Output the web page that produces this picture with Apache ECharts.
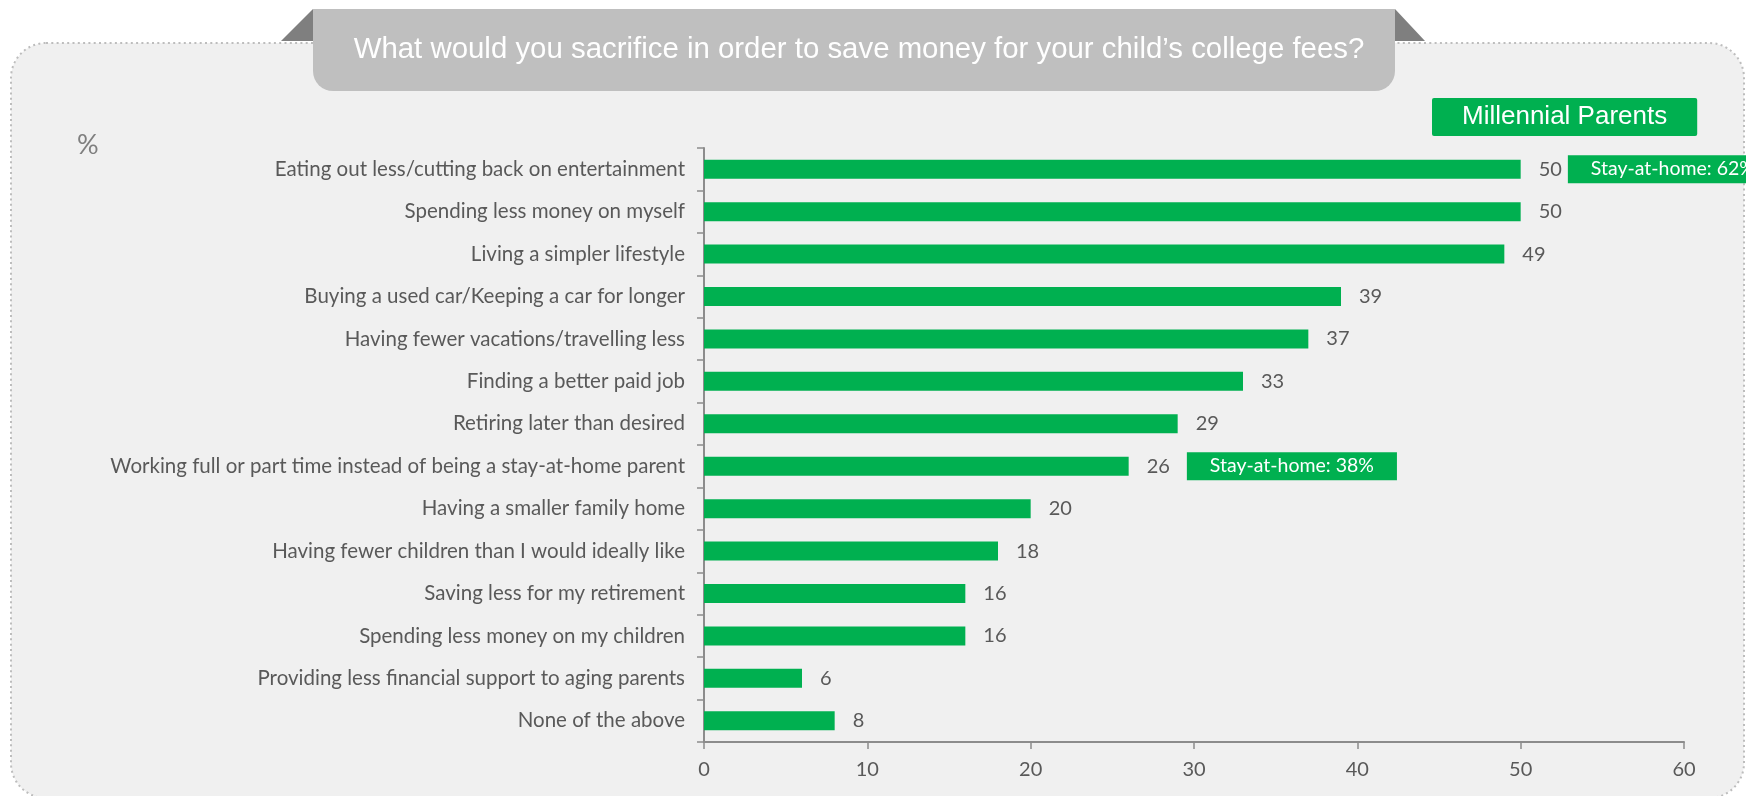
<!DOCTYPE html>
<html>
<head>
<meta charset="utf-8">
<script src="https://cdn.jsdelivr.net/npm/echarts@6/dist/echarts.min.js"></script>
<style>
  html, body { margin: 0; padding: 0; background: #ffffff; }
  #chart { width: 1746px; height: 796px; }
</style>
</head>
<body>
<div id="chart"></div>
<script>
// Survey answers, top to bottom
const categories = [
  'Eating out less/cutting back on entertainment',
  'Spending less money on myself',
  'Living a simpler lifestyle',
  'Buying a used car/Keeping a car for longer',
  'Having fewer vacations/travelling less',
  'Finding a better paid job',
  'Retiring later than desired',
  'Working full or part time instead of being a stay-at-home parent',
  'Having a smaller family home',
  'Having fewer children than I would ideally like',
  'Saving less for my retirement',
  'Spending less money on my children',
  'Providing less financial support to aging parents',
  'None of the above'
];
// Share of millennial parents (%)
const values = [50, 50, 49, 39, 37, 33, 29, 26, 20, 18, 16, 16, 6, 8];
// Call-outs for stay-at-home parents
const notes = ['Stay-at-home: 62%', '', '', '', '', '', '', 'Stay-at-home: 38%', '', '', '', '', '', ''];
const xTicks = [0, 10, 20, 30, 40, 50, 60];
const seriesName = 'Millennial Parents';
const titleText = 'What would you sacrifice in order to save money for your child\u2019s college fees?';
const unitText = '%';

const GREEN = '#00b050';
const LABEL_GREY = '#595959';
const AXIS_GREY = '#8c8c8c';
const LABEL_FONT = 'Lato, "Open Sans", sans-serif';
const HEAD_FONT = '"Liberation Sans", Arial, sans-serif';
// space between a value and its call-out box
const noteGap = { 0: 6, 7: 17 };

const chart = echarts.init(document.getElementById('chart'), null, { renderer: 'canvas' });

const barData = values.map((v, i) => {
  const item = { value: v };
  if (notes[i]) {
    item.label = {
      formatter: () => '{v|' + v + '}{g' + i + '|}{box|' + notes[i] + '}'
    };
  }
  return item;
});

const gapRich = {};
Object.keys(noteGap).forEach(k => { gapRich['g' + k] = { width: noteGap[k], height: 1 }; });

const option = {
  backgroundColor: '#ffffff',
  animation: false,
  title: {
    text: titleText,
    left: 854,
    top: 30,
    textAlign: 'center',
    textStyle: { color: '#ffffff', fontSize: 29.4, fontWeight: 'normal', fontFamily: HEAD_FONT }
  },
  legend: {
    data: [{ name: seriesName, icon: 'none' }],
    left: 1432,
    top: 98,
    itemWidth: 0,
    itemHeight: 0,
    padding: [6, 30, 6, 25],
    backgroundColor: GREEN,
    borderRadius: 2,
    selectedMode: false,
    textStyle: { color: '#ffffff', fontSize: 26, fontFamily: HEAD_FONT, lineHeight: 26 }
  },
  graphic: [
    // panel behind the chart
    {
      type: 'rect', z: -10,
      shape: { x: 11, y: 43, width: 1733, height: 755, r: 35 },
      style: { fill: '#f0f0f0', stroke: '#bdbdbd', lineWidth: 2, lineDash: [2, 3.3] }
    },
    // tab corners
    { type: 'polygon', z: -9, shape: { points: [[281, 41], [313, 9], [313, 41]] }, style: { fill: '#7f7f7f' } },
    { type: 'polygon', z: -9, shape: { points: [[1395, 9], [1425, 41], [1395, 41]] }, style: { fill: '#7f7f7f' } },
    // title tab
    {
      type: 'rect', z: -8,
      shape: { x: 313, y: 9, width: 1082, height: 82, r: [0, 0, 20, 20] },
      style: { fill: '#bfbfbf' }
    },
    {
      type: 'text', left: 77, top: 132,
      style: { text: unitText, fill: '#7f7f7f', font: '27px ' + LABEL_FONT }
    }
  ],
  grid: { left: 704, right: 62, top: 148, bottom: 54, containLabel: false },
  xAxis: {
    type: 'value',
    min: 0, max: 60, interval: 10,
    axisLine: { show: true, lineStyle: { color: AXIS_GREY, width: 2 } },
    axisTick: { show: true, length: 7, lineStyle: { color: AXIS_GREY, width: 1.5 } },
    splitLine: { show: false },
    axisLabel: {
      margin: 18, color: LABEL_GREY, fontSize: 20, fontFamily: LABEL_FONT,
      formatter: v => (xTicks.indexOf(v) >= 0 ? String(v) : '')
    }
  },
  yAxis: {
    type: 'category',
    data: categories,
    inverse: true,
    axisLine: { show: true, lineStyle: { color: AXIS_GREY, width: 2 } },
    axisTick: { show: true, length: 7, lineStyle: { color: AXIS_GREY, width: 1.5 } },
    axisLabel: { margin: 19, color: LABEL_GREY, fontSize: 20.5, fontFamily: LABEL_FONT }
  },
  series: [{
    name: seriesName,
    type: 'bar',
    data: barData,
    barWidth: 19,
    itemStyle: { color: GREEN },
    label: {
      show: true,
      position: 'right',
      distance: 18,
      color: LABEL_GREY,
      fontSize: 20,
      fontFamily: LABEL_FONT,
      rich: Object.assign({
        v: { color: LABEL_GREY, fontSize: 20, fontFamily: LABEL_FONT },
        box: {
          color: '#ffffff', fontSize: 19.5, fontFamily: LABEL_FONT,
          backgroundColor: GREEN, padding: [4, 23, 4, 23]
        }
      }, gapRich)
    }
  }]
};

chart.setOption(option);
</script>
</body>
</html>
